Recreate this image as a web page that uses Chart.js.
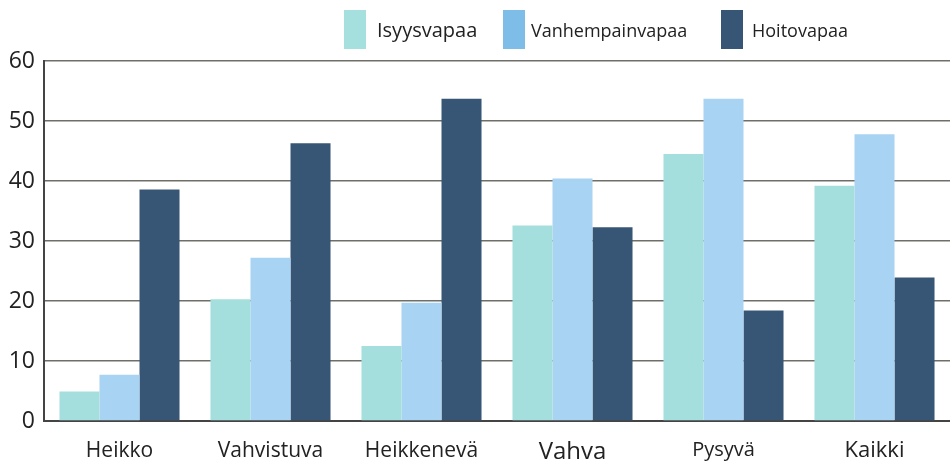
<!DOCTYPE html>
<html>
<head>
<meta charset="utf-8">
<script src="https://cdn.jsdelivr.net/npm/chart.js@4.4.1/dist/chart.umd.min.js"></script>
<style>
  html, body { margin: 0; padding: 0; background: #fff; }
  #wrap { position: relative; width: 950px; height: 462px; font-family: "Open Sans", sans-serif; color: #222; }
  #chart { position: absolute; left: 0; top: 0; }
  .lg-item { position: absolute; top: 10px; display: flex; align-items: center; height: 39px; }
  .lg-box { width: 22px; height: 39px; }
</style>
</head>
<body>
<div id="wrap">
  <canvas id="chart" width="950" height="462"></canvas>
  <div id="legend"></div>
</div>
<script>
// ── Data ────────────────────────────────────────────────────────────────────
const categories = ['Heikko', 'Vahvistuva', 'Heikkenevä', 'Vahva', 'Pysyvä', 'Kaikki'];
const isyysvapaa = [4.9, 20.3, 12.5, 32.6, 44.5, 39.2];
const vanhempainvapaa = [7.7, 27.2, 19.7, 40.4, 53.7, 47.8];
const hoitovapaa = [38.6, 46.3, 53.7, 32.3, 18.4, 23.9];
const yTicks = [0, 10, 20, 30, 40, 50, 60];

const series = [
  { label: 'Isyysvapaa', data: isyysvapaa, color: '#a5dfdd', legendColor: '#a5e0de', size: 20 },
  { label: 'Vanhempainvapaa', data: vanhempainvapaa, color: '#a9d3f2', legendColor: '#7fbde9', size: 18 },
  { label: 'Hoitovapaa', data: hoitovapaa, color: '#375675', legendColor: '#375675', size: 18 }
];

// ── Legend (HTML, above plot) ───────────────────────────────────────────────
const legendLeft = [344, 503, 721];
const legendGap = [11, 6, 9];
document.getElementById('legend').innerHTML = series.map((s, i) => `
  <div class="lg-item" style="left:${legendLeft[i]}px">
    <div class="lg-box" style="background:${s.legendColor};margin-right:${legendGap[i]}px"></div>
    <span style="font-size:${s.size}px">${s.label}</span>
  </div>
`).join('');

// ── Chart ───────────────────────────────────────────────────────────────────
const xFontSizes = [21, 21, 21, 24, 20, 22];

new Chart(document.getElementById('chart').getContext('2d'), {
  type: 'bar',
  data: {
    labels: categories,
    datasets: series.map(s => ({
      label: s.label,
      data: s.data,
      backgroundColor: s.color,
      borderWidth: 0,
      categoryPercentage: 0.795,
      barPercentage: 1
    }))
  },
  options: {
    responsive: false,
    animation: false,
    layout: { padding: { top: 61, right: 0, left: 0, bottom: 0 } },
    plugins: { legend: { display: false }, tooltip: { enabled: false } },
    scales: {
      x: {
        grid: { display: false, drawTicks: false },
        border: { color: '#444', width: 2 },
        ticks: {
          color: '#222',
          padding: 17,
          font: ctx => ({ family: '"Open Sans", sans-serif', size: xFontSizes[ctx.index] || 21 })
        },
        afterFit: s => { s.height = 41; }
      },
      y: {
        min: 0,
        max: 60,
        afterBuildTicks: s => { s.ticks = yTicks.map(v => ({ value: v })); },
        grid: { color: '#6f6f69', lineWidth: 1.5, drawTicks: false },
        border: { color: '#444', width: 2 },
        ticks: {
          color: '#222',
          padding: 9,
          font: { family: '"Open Sans", sans-serif', size: 23 }
        },
        afterFit: s => { s.width = 44; }
      }
    }
  }
});
</script>
</body>
</html>
